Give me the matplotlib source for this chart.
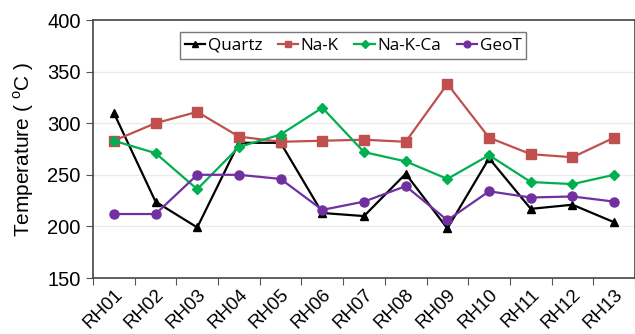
import numpy as np
import matplotlib
matplotlib.use("Agg")
import matplotlib.pyplot as plt

plt.rcParams['font.family'] = ['Liberation Sans', 'DejaVu Sans']
plt.rcParams['mathtext.fontset'] = 'custom'
plt.rcParams['mathtext.rm'] = 'Liberation Sans'

# Geothermometer temperatures per sample
samples = ['RH01', 'RH02', 'RH03', 'RH04', 'RH05', 'RH06', 'RH07',
           'RH08', 'RH09', 'RH10', 'RH11', 'RH12', 'RH13']
quartz = [310, 224, 199, 281, 281, 213, 210, 251, 198, 266, 217, 221, 204]
na_k = [283, 300, 311, 287, 282, 283, 284, 282, 338, 286, 270, 267, 286]
na_k_ca = [283, 271, 236, 277, 289, 315, 272, 263, 246, 269, 243, 241, 250]
geot = [212, 212, 250, 250, 246, 216, 224, 239, 206, 234, 228, 229, 224]

fig = plt.figure(figsize=(6.35, 3.34), dpi=100)
ax = fig.add_axes([93/635, 56/334, 542/635, 258/334])

x = np.arange(len(samples))
ax.plot(x, quartz, color='black', marker='^', markersize=6, lw=1.6, label='Quartz')
ax.plot(x, na_k, color='#C0504D', marker='s', markersize=6.5, lw=1.6, label='Na-K')
ax.plot(x, na_k_ca, color='#00B050', marker='D', markersize=5.5, lw=1.6, label='Na-K-Ca')
ax.plot(x, geot, color='#7030A0', marker='o', markersize=6.5, lw=1.6, label='GeoT')

ax.set_xlim(-0.5, len(samples) - 0.5)
ax.set_ylim(150, 400)
ax.set_yticks([150, 200, 250, 300, 350, 400])
for v in [200, 250, 300, 350]:
    ax.axhline(v, color='#EBEBEB', lw=1, zorder=0)

# ticks sit between categories, labels at the centres
ax.set_xticks(np.arange(len(samples) + 1) - 0.5)
ax.set_xticklabels([])
ax.set_xticks(x, minor=True)
ax.set_xticklabels(samples, minor=True, rotation=45, ha='right',
                   rotation_mode='anchor', fontsize=13.5)
ax.tick_params(axis='x', which='minor', length=0, pad=6)
ax.tick_params(axis='x', which='major', length=5, color='#555555')
ax.tick_params(axis='y', length=5, color='#555555', labelsize=14.5, pad=4)

for s in ax.spines.values():
    s.set_color('#444444')
    s.set_linewidth(1.2)

ax.set_ylabel('Temperature ( $^{\\mathrm{o}}$C )', fontsize=15, labelpad=8)

leg = ax.legend(loc='upper center', ncol=4, bbox_to_anchor=(0.48, 0.985),
                prop={'family': 'Open Sans', 'size': 12.3}, frameon=True,
                fancybox=False, edgecolor='#555555', handlelength=1.2,
                handletextpad=0.15, columnspacing=0.9, borderpad=0.3,
                markerscale=0.75)
leg.get_frame().set_linewidth(1.0)

fig.savefig('out.png', dpi=100)
